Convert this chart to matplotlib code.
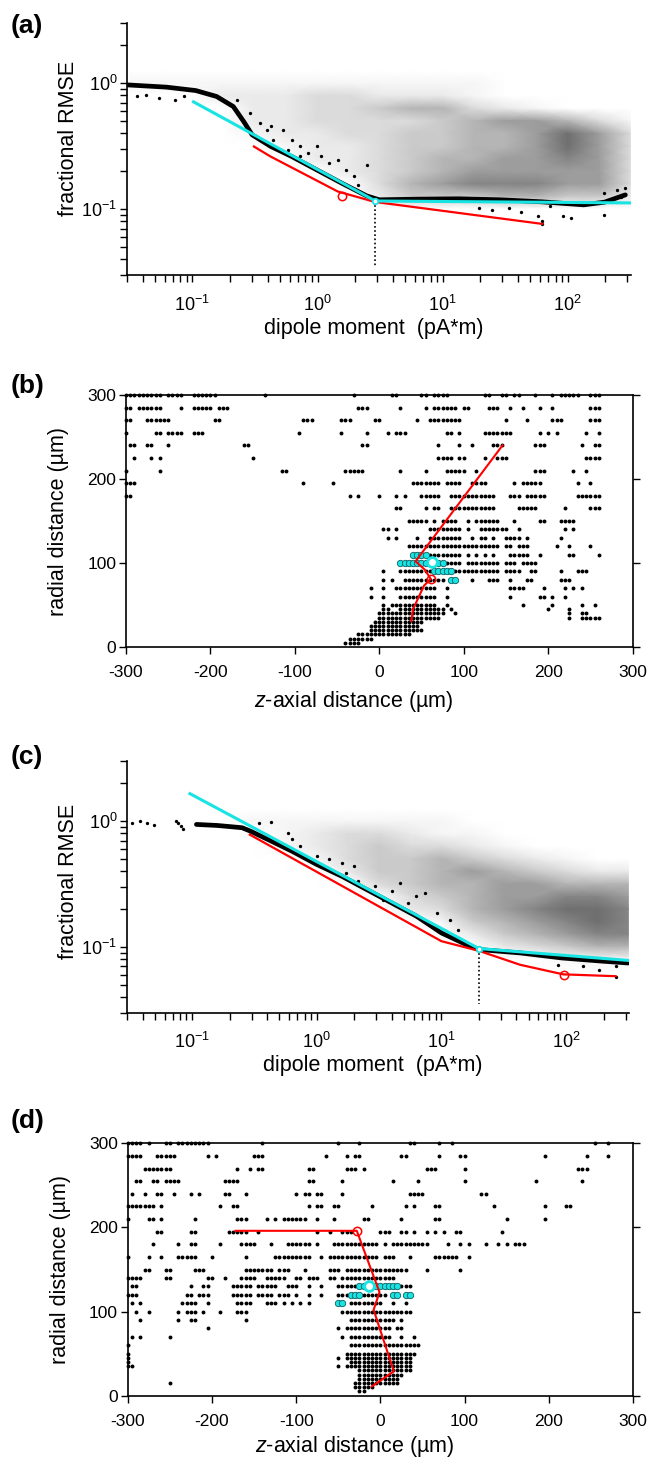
import numpy as np
import matplotlib
matplotlib.use('Agg')
import matplotlib.pyplot as plt
from matplotlib.ticker import LogLocator, NullFormatter, LogFormatterMathtext, FixedLocator

plt.rcParams['font.family'] = ['Liberation Sans', 'DejaVu Sans']
plt.rcParams['mathtext.fontset'] = 'custom'
plt.rcParams['mathtext.rm'] = 'Liberation Sans'
plt.rcParams['mathtext.it'] = 'Liberation Sans:italic'
plt.rcParams['mathtext.bf'] = 'Liberation Sans:bold'
plt.rcParams['axes.unicode_minus'] = False
plt.rcParams['axes.linewidth'] = 1.2

# ------------------------------------------------------------------ data
# density of the gray cloud (digits 0-9), nodes in log10 units
CLOUD_LX = [-1.5, -1.25, -1.0, -0.75, -0.5, -0.25, 0.0, 0.25, 0.5, 0.75,
            1.0, 1.25, 1.5, 1.75, 2.0, 2.25, 2.5]
CLOUD_LY = [0.1, 0.0, -0.1, -0.2, -0.3, -0.4, -0.5, -0.6, -0.7, -0.8,
            -0.9, -1.0, -1.1, -1.2]
A_CLOUD = ["00000000000000000",
           "11111111111100000",
           "00022233222100000",
           "00002233455321000",
           "00002233334566531",
           "00001223344556863",
           "00000122344556863",
           "00000022345566763",
           "00000002345666663",
           "00000000356777663",
           "00000000244455442",
           "00000000000000000",
           "00000000000000000",
           "00000000000000000"]
C_CLOUD = ["00000000000000000",
           "00001111111000000",
           "00000123321100000",
           "00000123433210000",
           "00000013445432100",
           "00000002445654322",
           "00000000345566555",
           "00000000034566776",
           "00000000023567887",
           "00000000001456787",
           "00000000000245677",
           "00000000000023455",
           "00000000000000111",
           "00000000000000000"]

# dense band of best-fit points (log10 units)
A_BAND_LX = [-1.523, -1.207, -0.973, -0.807, -0.673, -0.59, -0.523, -0.373, -0.207,
             -0.007, 0.193, 0.393, 0.493, 0.793, 1.127, 1.46, 1.793, 2.127, 2.293, 2.46]
A_BAND_LY = [-0.014, -0.032, -0.059, -0.106, -0.186, -0.305, -0.41, -0.503, -0.582,
             -0.688, -0.794, -0.895, -0.926, -0.921, -0.918, -0.926, -0.942, -0.966, -0.945, -0.887]
A_SC_LX = [-1.44, -1.37, -1.27, -1.14, -1.07,
           -0.64, -0.54, -0.457, -0.407, -0.357, -0.273, -0.207, -0.14, -0.073, -0.007,
           0.027, 0.093, 0.16, 0.227, 0.293, 0.393, 0.327, -0.14, -0.24, -0.373,
           1.293, 1.393, 1.527, 1.627, 1.76, 1.793, 1.96, 2.027, 2.293, 1.86,
           2.293, 2.393, 2.46, 2.427, 1.793]
A_SC_LY = [-0.106, -0.093, -0.12, -0.133, -0.106,
           -0.133, -0.238, -0.318, -0.371, -0.45, -0.371, -0.45, -0.503, -0.556, -0.503,
           -0.582, -0.635, -0.609, -0.688, -0.741, -0.648, -0.807, -0.582, -0.529, -0.344,
           -0.992, -1.006, -0.992, -1.019, -1.058, -1.098, -1.058, -1.072, -1.045, -0.979,
           -0.873, -0.847, -0.833, -0.9, -1.117]
A_CYAN_X = [0.102, 2.9, 320]
A_CYAN_Y = [0.71, 0.116, 0.112]
A_RED_X = [0.31, 0.42, 1.45, 2.88, 62]
A_RED_Y = [0.314, 0.262, 0.138, 0.114, 0.0764]
A_CIRCLE = (1.58, 0.128)
A_BREAK = (2.9, 0.116)

C_BAND_LX = [-0.966, -0.8, -0.6, -0.533, -0.366, -0.2, 0.0, 0.2, 0.4, 0.6, 0.8, 1.0,
             1.2, 1.3, 1.634, 1.967, 2.3, 2.5]
C_BAND_LY = [-0.027, -0.035, -0.053, -0.08, -0.159, -0.239, -0.345, -0.438, -0.544,
             -0.65, -0.756, -0.889, -0.982, -1.021, -1.048, -1.088, -1.114, -1.128]
C_SC_LX = [-1.483, -1.416, -1.366, -1.306, -1.133, -1.116, -1.093, -1.073,
           -0.466, -0.366, -0.233, -0.2, -0.133, 0.0, 0.1, 0.2, 0.3, 0.233, 0.333, 0.467,
           0.6, 0.667, 0.8, 0.867, 0.967, 1.067, 1.133, 0.733, 0.533,
           1.934, 2.133, 2.267, 2.4, 2.4]
C_SC_LY = [-0.013, 0.0, -0.019, -0.029, 0.0, -0.019, -0.04, -0.061,
           -0.013, -0.008, -0.093, -0.146, -0.199, -0.279, -0.305, -0.332, -0.358, -0.411,
           -0.477, -0.517, -0.557, -0.491, -0.597, -0.571, -0.73, -0.783, -0.862, -0.65,
           -0.624, -1.141, -1.154, -1.18, -1.154, -1.239]
C_CYAN_X = [0.096, 20, 320]
C_CYAN_Y = [1.65, 0.097, 0.078]
C_RED_X = [0.29, 10, 20, 43, 95, 250]
C_RED_Y = [0.78, 0.111, 0.093, 0.072, 0.0605, 0.0585]
C_CIRCLE = (96, 0.0602)
C_BREAK = (20, 0.096)

# grid positions: column index c -> z = -300 + 5 c ; rows: radial distance
B_ROWS = [
    (300, "0-8 10-13 16-21 33 54 63-64 70-71 73-76 85-86 89-90 92-93 97 101 103-107 110-112"),
    (285, "0-1 3-8 13 16-20 22-24 55-57 65 71 73-78 80-81 86-88 91 94 98 101 110-112"),
    (270, "0-1 5-10 21-22 42-44 51-53 59-60 69 72-79 90 95 101-103 110-112"),
    (255, "0 7-8 10-13 16-18 41 51 57 62 64-66 76-77 79 85-91 98 100 102 109 112"),
    (240, "1-2 5-6 10 28-29 56-57 74 79 82 87-89 97-99 108 111-112"),
    (225, "2 6 8 30 74-77 79-80 85 88-90 109-112"),
    (210, "0 8 37-38 52-56 65 71 76-80 83 97-99 106 109"),
    (195, "0-2 42 49 68-74 76-79 82-85 92 94-98 107 110"),
    (180, "0-1 53 55 60 64 66 70-74 77-87 91-93 95-99 107-112"),
    (165, "64-65 71 73-74 77-87 93-97 104 110-112"),
    (150, "67-71 73 75-78 81 83-88 92 98-99 103-106"),
    (140, "61-62 64 72-79 81 84-90 93 104 106"),
    (130, "62 64 69 72-79 82 84-85 87 90-93 95 103"),
    (120, "67-88 90-91 93-95 102 105 110"),
    (110, "68-79 81 83 85 87 91-95 98 105-106 112"),
    (100, "65-79 81-88 90-92 94-97"),
    (90, "61 65-88 90-93 96-97 103 107-109"),
    (80, "61 63 66-75 77-78 82 86-88 91 95-96 103-105"),
    (70, "58 61 64-73 76 91-94 99 104 106 108"),
    (60, "58 61 65-73 76 91 98-99 101 104"),
    (50, "61 63-73 76 94 101 108 111"),
    (45, "61-62 65-75 77 100 105"),
    (40, "60-75 78 105 108-109"),
    (35, "60-74 105 108-112"),
    (30, "59-70"),
    (25, "58-69"),
    (20, "58-70"),
    (15, "55-67"),
    (10, "53-58"),
    (5, "52-55"),
]
B_CYAN = [(110, "68-71"), (100, "65-75"), (90, "73-77"), (80, "77-78")]
B_RED_Z = [38, 40, 47, 53, 61, 54, 43, 146]
B_RED_R = [31, 45, 60, 73, 81, 92, 102, 240]
B_CIRCLE = (61, 81)
B_BEST = (62, 101)

D_ROWS = [
    (300, "0-3 5 9-10 12-19 32 50 55 67-68 74 77 111 114"),
    (285, "0-3 7-11 19 21 30-32 47 52 54-55 65-66 74 79-80 99 109 114"),
    (270, "4-10 26 29 31-32 43-44 52-54 56 71-73 80 107-109"),
    (255, "2-3 6-7 9-12 23-26 43-44 51 63 69 80 97 108"),
    (240, "1 4 7-8 11 15 17 23-24 28 40 42-43 45-46 51 67-70 84-85"),
    (225, "0-6 8 22 25-26 43 45-46 49-50 58 66 68 73-74 87 99 104-105"),
    (210, "0 5-6 8 16 26-28 33 35 37-42 45 49 56-57 65 73-74 90 99"),
    (195, "7-8 15-16 24-28 31 45 48 51-53 60-62 65-66 68 71 73 75 78-79 89"),
    (180, "6 12 15-16 22 27-30 34 38-43 45 49-59 61 63-71 76 79 81 85 88 90 92-94"),
    (165, "0 5 8 12-16 20 28 35-43 46 48-59 61-63 67 73-78 81"),
    (150, "4-5 9-10 16-18 28-34 36-38 42 48-50 52-66 71 79"),
    (140, "0-3 9-10 19-20 23 27-30 33-37 40-41 43-45 48-49 51-63"),
    (130, "1-2 15 18-19 25-29 31-35 38-40 43 46 50-67"),
    (120, "0-2 14-15 17-19 25-29 31-34 36-38 40 43 46 50-61"),
    (110, "1 3 13-16 19 26-29 33-35 37 39 41 43 53-60 63 66"),
    (100, "2 5 12 14-16 18 22 26-28 51-67"),
    (90, "3 12 15-16 28 53-63 65"),
    (80, "19 50 52-62 64-65"),
    (70, "1 3 10 51 53-62 65 68"),
    (60, "0 53-69"),
    (50, "0 52-68"),
    (45, "0 50 52-67"),
    (40, "0 53-67"),
    (35, "0-1 50 52-67"),
    (30, "55-67"),
    (25, "55-65"),
    (20, "55-64"),
    (15, "10 54-64"),
    (10, "54-58"),
    (5, "55-56"),
]
D_CYAN = [(130, "55-64"), (120, "53-55 63-64 66-67"), (110, "50-51")]
D_RED_Z = [-172, -28, -1, -8, 16, -10]
D_RED_R = [196, 196, 123, 102, 29, 11]
D_CIRCLE = (-28, 196)
D_BEST = (-14, 130)

LOG_XLIM = (0.03, 320)
LOG_YLIM = (0.03, 3.0)
CYAN = '#19e3e3'

# ------------------------------------------------------------------ helpers
W, H = 651.0, 1458.0
fig = plt.figure(figsize=(W / 100, H / 100), dpi=100)


def rect(l, t, r, b):
    return [l / W, 1 - b / H, (r - l) / W, (b - t) / H]


def expand(rows):
    zs, rs = [], []
    for r, spec in rows:
        for tok in spec.split():
            if '-' in tok:
                a, b = tok.split('-')
                cols = range(int(a), int(b) + 1)
            else:
                cols = [int(tok)]
            for c in cols:
                zs.append(-300 + 5 * c)
                rs.append(r)
    return np.array(zs, float), np.array(rs, float)


def log_panel(pos, cloud, band_lx, band_ly, sc_lx, sc_ly, cx, cy, rx, ry,
              circ, brk, label_y):
    ax = fig.add_axes(rect(*pos))
    ax.set_xscale('log')
    ax.set_yscale('log')
    arr = np.array([[int(ch) for ch in row] for row in cloud], float) / 10.0
    X, Y = np.meshgrid(10 ** np.array(CLOUD_LX), 10 ** np.array(CLOUD_LY))
    ax.pcolormesh(X, Y, arr, shading='gouraud', cmap='Greys', vmin=0, vmax=1.25,
                  zorder=0, rasterized=True)
    ax.plot(10 ** np.array(band_lx), 10 ** np.array(band_ly), color='k', lw=3.4,
            solid_capstyle='round', solid_joinstyle='round', zorder=2)
    ax.plot(10 ** np.array(sc_lx), 10 ** np.array(sc_ly), 'o', color='k', ms=2.4,
            mew=0, zorder=2)
    ax.plot([brk[0], brk[0]], [brk[1], 0.035], color='k', ls=(0, (1, 1.5)), lw=1.2,
            zorder=2)
    ax.plot(rx, ry, color='red', lw=1.6, zorder=3)
    ax.plot(cx, cy, color=CYAN, lw=2.2, zorder=4)
    ax.plot([circ[0]], [circ[1]], 'o', mfc='none', mec='red', ms=6, mew=1.1, zorder=5)
    ax.plot([brk[0]], [brk[1]], 'o', mfc='white', mec=CYAN, ms=4.0, mew=1.3, zorder=5)
    ax.set_xlim(*LOG_XLIM)
    ax.set_ylim(*LOG_YLIM)
    for s in ('top', 'right'):
        ax.spines[s].set_visible(False)
    ax.xaxis.set_major_locator(LogLocator(base=10, numticks=20))
    ax.xaxis.set_minor_locator(LogLocator(base=10, subs=np.arange(2, 10), numticks=40))
    ax.yaxis.set_major_locator(LogLocator(base=10, numticks=20))
    ax.yaxis.set_minor_locator(LogLocator(base=10, subs=np.arange(2, 10), numticks=40))
    ax.xaxis.set_major_formatter(LogFormatterMathtext())
    ax.yaxis.set_major_formatter(LogFormatterMathtext())
    ax.xaxis.set_minor_formatter(NullFormatter())
    ax.yaxis.set_minor_formatter(NullFormatter())
    ax.tick_params(which='both', direction='out', length=5, width=1.0, labelsize=13)
    ax.tick_params(axis='x', pad=9)
    ax.tick_params(axis='y', pad=2)
    ax.set_xlabel('dipole moment  (pA*m)', fontsize=15.5)
    ax.set_ylabel('fractional RMSE', fontsize=15.5)
    ax.xaxis.set_label_coords(0.49, -0.17)
    ax.yaxis.set_label_coords(-0.095, label_y)
    return ax


def grid_panel(pos, rows, cyan_rows, rz, rr, circ, best, xl_y):
    ax = fig.add_axes(rect(*pos))
    z, r = expand(rows)
    ax.plot(z, r, 'o', color='k', ms=2.8, mew=0, clip_on=False, zorder=2)
    cz, cr = expand(cyan_rows)
    ax.plot(cz, cr, 'o', mfc=CYAN, mec='#0b5f5f', ms=4.6, mew=0.6, zorder=3)
    ax.plot(rz, rr, color='red', lw=1.5, zorder=4)
    ax.plot([circ[0]], [circ[1]], 'o', mfc='none', mec='red', ms=6, mew=1.1, zorder=5)
    ax.plot([best[0]], [best[1]], 'o', mfc='white', mec=CYAN, ms=7, mew=2.0, zorder=6)
    ax.set_xlim(-300, 300)
    ax.set_ylim(0, 300)
    ax.xaxis.set_major_locator(FixedLocator([-300, -200, -100, 0, 100, 200, 300]))
    ax.yaxis.set_major_locator(FixedLocator([0, 100, 200, 300]))
    ax.tick_params(direction='out', length=5, width=1.0, labelsize=12.5, right=True)
    ax.tick_params(axis='x', pad=8)
    ax.tick_params(axis='y', pad=2)
    ax.set_xlabel('$z$-axial distance (µm)', fontsize=15.5)
    ax.set_ylabel('radial distance (µm)', fontsize=15.5)
    ax.xaxis.set_label_coords(0.45, xl_y)
    ax.yaxis.set_label_coords(-0.112, 0.5)
    return ax


log_panel((127, 23, 631, 275), A_CLOUD, A_BAND_LX, A_BAND_LY, A_SC_LX, A_SC_LY,
          A_CYAN_X, A_CYAN_Y, A_RED_X, A_RED_Y, A_CIRCLE, A_BREAK, 0.54)
grid_panel((126, 395, 632.5, 647), B_ROWS, B_CYAN, B_RED_Z, B_RED_R, B_CIRCLE, B_BEST, -0.165)
log_panel((127, 761, 629, 1012.7), C_CLOUD, C_BAND_LX, C_BAND_LY, C_SC_LX, C_SC_LY,
          C_CYAN_X, C_CYAN_Y, C_RED_X, C_RED_Y, C_CIRCLE, C_BREAK, 0.523)
grid_panel((127.7, 1143.3, 633, 1395.7), D_ROWS, D_CYAN, D_RED_Z, D_RED_R, D_CIRCLE, D_BEST, -0.152)

for lab, yc in (('(a)', 26), ('(b)', 386), ('(c)', 757), ('(d)', 1121)):
    fig.text(11 / W, 1 - yc / H, lab, fontsize=19, fontweight='bold', ha='left', va='center')

fig.savefig('out.png', dpi=100)
